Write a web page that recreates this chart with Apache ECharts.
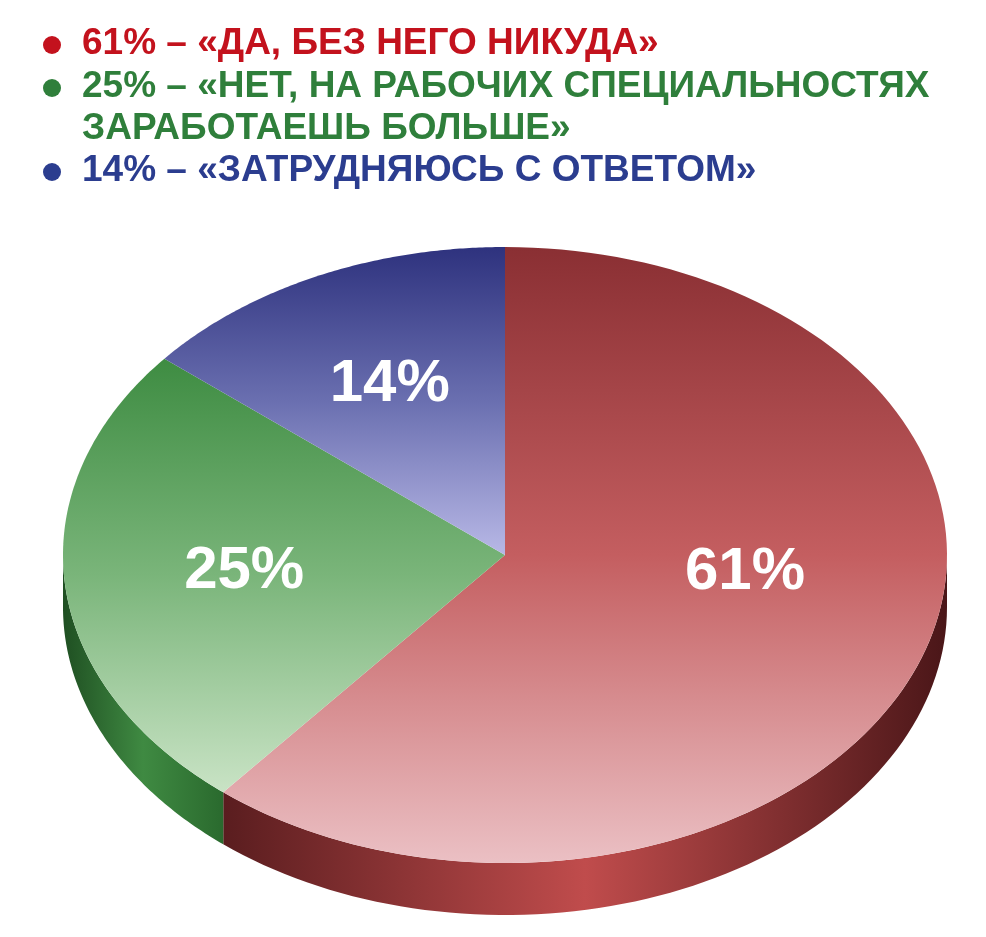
<!DOCTYPE html>
<html><head><meta charset="utf-8">
<script src="https://cdn.jsdelivr.net/npm/echarts@6/dist/echarts.min.js"></script>
<style>html,body{margin:0;padding:0;background:#fff}#c{width:986px;height:937px}</style>
</head><body><div id="c"></div>
<script>
const categories = ['«ДА, БЕЗ НЕГО НИКУДА»', '«НЕТ, НА РАБОЧИХ СПЕЦИАЛЬНОСТЯХ\nЗАРАБОТАЕШЬ БОЛЬШЕ»', '«ЗАТРУДНЯЮСЬ С ОТВЕТОМ»'];
const values = [61, 25, 14];
const legendColors = ['#c3121d', '#2f7f3b', '#2b3d8f'];

const chart = echarts.init(document.getElementById('c'));
const total = values.reduce((a, b) => a + b, 0);
let acc = 0;
const data = values.map(v => { const s = acc; acc += v; return [v, s / total, acc / total]; });

const CX = 505, CY = 555, RX = 442, RY = 308, TH = 52;
const LBL_DX = [3, -10, -8], LBL_DY = [-42, 0, -12];
const topGrad = [
  ['#8a2f33', '#c45e60', '#ebc0c4'],
  ['#3e8c42', '#7ab57a', '#c9e3c5'],
  ['#2e327e', '#6a6fb0', '#b8b8e6']
];
const sideCol = [['#5a1d1f', '#c04c4c', '#4a1618'], ['#1f4f22', '#3f8a42', '#2a6a2e']];
function pt(a, dy) {
  const t = a * 2 * Math.PI;
  return [CX + RX * Math.sin(t), CY - RY * Math.cos(t) + (dy || 0)];
}
function renderItem(params, api) {
  const i = params.dataIndex;
  const a1 = api.value(1), a2 = api.value(2);
  const children = [];
  const s1 = Math.max(a1, 0.25), s2 = Math.min(a2, 0.75);
  if (s2 > s1) {
    const top = [], bot = [];
    for (let k = 0; k <= 80; k++) { const a = s1 + (s2 - s1) * k / 80; top.push(pt(a)); bot.push(pt(a, TH)); }
    const sc = sideCol[Math.min(i, 1)];
    children.push({ type: 'polygon', shape: { points: top.concat(bot.reverse()) },
      style: { fill: new echarts.graphic.LinearGradient(0, 0, 1, 0, [
        { offset: 0, color: sc[0] }, { offset: 0.5, color: sc[1] }, { offset: 1, color: sc[2] }]) } });
  }
  const pts = [[CX, CY]];
  for (let k = 0; k <= 120; k++) pts.push(pt(a1 + (a2 - a1) * k / 120));
  const g = topGrad[i];
  children.push({ type: 'polygon', shape: { points: pts },
    style: { fill: new echarts.graphic.LinearGradient(0, 0, 0, 1, [
      { offset: 0, color: g[0] }, { offset: 0.5, color: g[1] }, { offset: 1, color: g[2] }]) } });
  const m = (a1 + a2) / 2, t = m * 2 * Math.PI;
  const lx = CX + RX * 0.57 * Math.sin(t) + LBL_DX[i], ly = CY - RY * 0.57 * Math.cos(t) + LBL_DY[i];
  children.push({ type: 'text', x: lx, y: ly, style: { text: api.value(0) + '%', fill: '#fff',
    font: 'bold 60px "Liberation Sans", Arial, sans-serif', textAlign: 'center', textVerticalAlign: 'middle' } });
  return { type: 'group', children };
}
const graphics = [];
const lineY = [45, 88, 172];
categories.forEach((c, i) => {
  graphics.push({ type: 'circle', shape: { cx: 52, cy: lineY[i], r: 9 }, style: { fill: legendColors[i] } });
  graphics.push({ type: 'text', left: 82, top: lineY[i] - 22, style: { text: values[i] + '% – ' + c, fill: legendColors[i],
    font: 'bold 37px "Liberation Sans", Arial, sans-serif', lineHeight: 42 } });
});
chart.setOption({
  animation: false,
  graphic: graphics,
  series: [{ type: 'custom', coordinateSystem: 'none', renderItem, data }]
});
</script></body></html>
